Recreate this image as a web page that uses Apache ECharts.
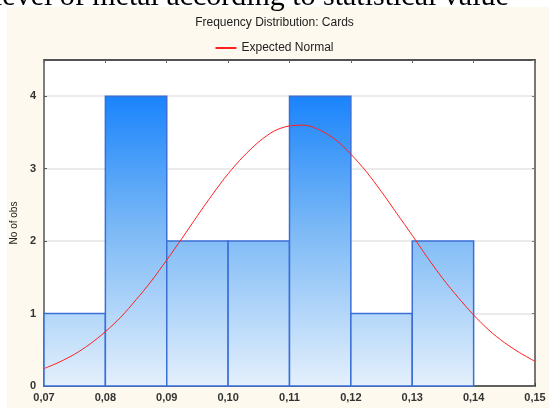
<!DOCTYPE html>
<html>
<head>
<meta charset="utf-8">
<script src="https://cdn.jsdelivr.net/npm/echarts@6/dist/echarts.min.js"></script>
<style>
  html, body { margin: 0; padding: 0; background: #ffffff; }
  #chart { width: 549px; height: 408px; }
</style>
</head>
<body>
<div id="chart"></div>
<script>
// Histogram bins (lower edge, upper edge) and observed counts
const binStarts = [0.07, 0.08, 0.09, 0.10, 0.11, 0.12, 0.13, 0.14];
const binEnds   = [0.08, 0.09, 0.10, 0.11, 0.12, 0.13, 0.14, 0.15];
const counts    = [1, 4, 2, 2, 4, 1, 2, 0];

// Expected normal curve, sampled along the x axis
const curveX = [0.0700, 0.0725, 0.0750, 0.0775, 0.0800, 0.0825, 0.0850, 0.0875,
                0.0900, 0.0925, 0.0950, 0.0975, 0.1000, 0.1025, 0.1050, 0.1075,
                0.1100, 0.1125, 0.1150, 0.1175, 0.1200, 0.1225, 0.1250, 0.1275,
                0.1300, 0.1325, 0.1350, 0.1375, 0.1400, 0.1425, 0.1450, 0.1475, 0.1500];
const curveY = [0.24, 0.33, 0.44, 0.58, 0.75, 0.95, 1.19, 1.45,
                1.74, 2.04, 2.35, 2.65, 2.93, 3.17, 3.37, 3.52,
                3.59, 3.60, 3.53, 3.40, 3.20, 2.96, 2.68, 2.38,
                2.08, 1.77, 1.48, 1.22, 0.98, 0.77, 0.60, 0.46, 0.34];

// Axis ticks
const yTicks = [0, 1, 2, 3, 4];

const chart = echarts.init(document.getElementById('chart'), null, { renderer: 'canvas' });

const barData = binStarts.map((s, i) => [s, binEnds[i], counts[i]]);
const lineData = curveX.map((x, i) => [x, curveY[i]]);

const labelFont = { fontFamily: 'Liberation Sans, Arial, sans-serif', fontSize: 11, color: '#333333', fontWeight: 'bold' };

const option = {
  animation: false,
  backgroundColor: '#ffffff',
  graphic: [
    { type: 'rect', z: -10, shape: { x: 7, y: 7, width: 542, height: 401 }, style: { fill: '#fef9ee' } },
    { type: 'text', z: 10, left: -6, top: -18,
      style: { text: 'level of metal according to statistical value', font: '30px "Liberation Serif", "Times New Roman", serif', fill: '#000000' } },
    { type: 'text', z: 10, left: 'center', top: 17,
      style: { text: 'Frequency Distribution: Cards', font: '12px "Liberation Sans", Arial, sans-serif', fill: '#222222' } }
  ],
  legend: {
    top: 37, left: 'center',
    itemWidth: 21, itemHeight: 2, itemGap: 6,
    icon: 'rect',
    textStyle: { fontFamily: 'Liberation Sans, Arial, sans-serif', fontSize: 12, color: '#222222' },
    data: [{ name: 'Expected Normal', itemStyle: { color: '#ff2020' } }]
  },
  grid: { left: 44, right: 14, top: 60, bottom: 22, containLabel: false, show: true, backgroundColor: '#ffffff', borderWidth: 0 },
  xAxis: [
    {
      type: 'value', min: 0.07, max: 0.15, interval: 0.01, position: 'bottom',
      axisLine: { show: true, onZero: false, lineStyle: { color: '#333333', width: 1.5 } },
      axisTick: { show: true, inside: true, length: 3, lineStyle: { color: '#444444' } },
      axisLabel: Object.assign({ margin: 6, formatter: v => v.toFixed(2).replace('.', ',') }, labelFont),
      splitLine: { show: false }
    },
    {
      type: 'value', min: 0.07, max: 0.15, interval: 0.01, position: 'top',
      axisLine: { show: true, onZero: false, lineStyle: { color: '#222222', width: 1.5 } },
      axisTick: { show: true, inside: true, length: 3, lineStyle: { color: '#666666' } },
      axisLabel: { show: false },
      splitLine: { show: false }
    }
  ],
  yAxis: [
    {
      type: 'value', min: 0, max: 4.5, interval: 1, position: 'left',
      name: 'No of obs', nameLocation: 'middle', nameGap: 22, nameRotate: 90,
      nameTextStyle: { fontFamily: 'Liberation Sans, Arial, sans-serif', fontSize: 10, color: '#222222' },
      axisLine: { show: true, onZero: false, lineStyle: { color: '#555555', width: 1.5 } },
      axisTick: { show: true, inside: true, length: 3, lineStyle: { color: '#555555' } },
      axisLabel: Object.assign({ margin: 8, formatter: v => (yTicks.indexOf(v) >= 0 ? String(v) : '') }, labelFont),
      splitLine: { show: true, lineStyle: { color: '#e4e4e4', width: 1.5 } }
    },
    {
      type: 'value', min: 0, max: 4.5, interval: 1, position: 'right',
      axisLine: { show: true, onZero: false, lineStyle: { color: '#777777', width: 2 } },
      axisTick: { show: true, inside: true, length: 3, lineStyle: { color: '#777777' } },
      axisLabel: { show: false },
      splitLine: { show: false }
    }
  ],
  series: [
    {
      type: 'custom',
      name: 'Counts',
      xAxisIndex: 0, yAxisIndex: 0,
      renderItem: function (params, api) {
        const x0 = api.coord([api.value(0), 0]);
        const x1 = api.coord([api.value(1), api.value(2)]);
        if (api.value(2) <= 0) return null;
        return {
          type: 'rect',
          shape: { x: x0[0], y: x1[1], width: x1[0] - x0[0], height: x0[1] - x1[1] },
          style: {
            fill: {
              type: 'linear', global: true,
              x: 0, y: 97, x2: 0, y2: 386,
              colorStops: [
                { offset: 0, color: '#1a84fb' },
                { offset: 0.45, color: '#7ab8f6' },
                { offset: 1, color: '#e4f0fc' }
              ]
            },
            stroke: '#3b6fd6',
            lineWidth: 1.5
          }
        };
      },
      encode: { x: [0, 1], y: 2 },
      data: barData,
      z: 2
    },
    {
      type: 'line',
      name: 'Expected Normal',
      xAxisIndex: 0, yAxisIndex: 0,
      data: lineData,
      smooth: 0.3,
      showSymbol: false,
      lineStyle: { color: '#ff2020', width: 1 },
      itemStyle: { color: '#ff2020' },
      z: 5
    }
  ]
};

chart.setOption(option);
</script>
</body>
</html>
